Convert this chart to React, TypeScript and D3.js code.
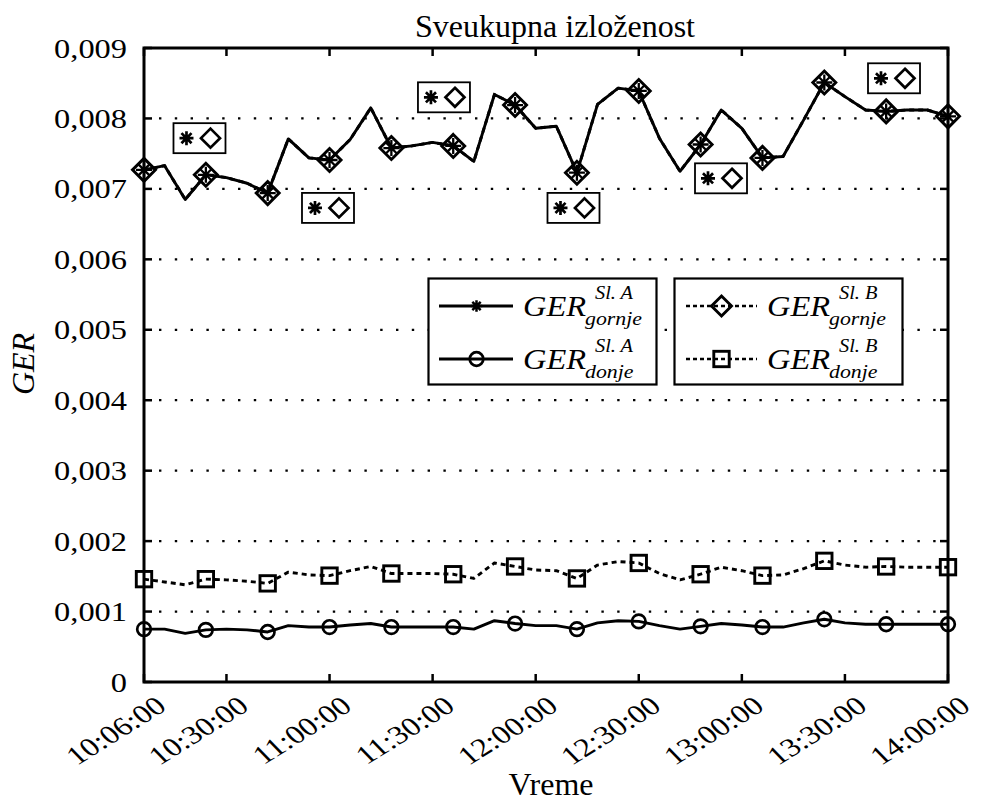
import React from 'react';
import * as d3 from 'd3';

const timeLabels = [
  '10:06', '10:12', '10:18', '10:24', '10:30', '10:36', '10:42', '10:48', '10:54',
  '11:00', '11:06', '11:12', '11:18', '11:24', '11:30', '11:36', '11:42', '11:48', '11:54',
  '12:00', '12:06', '12:12', '12:18', '12:24', '12:30', '12:36', '12:42', '12:48', '12:54',
  '13:00', '13:06', '13:12', '13:18', '13:24', '13:30', '13:36', '13:42', '13:48', '13:54',
  '14:00',
];

// values in units of 0.001
const gerGornjeA = [
  7.27, 7.33, 6.85, 7.20, 7.16, 7.08, 6.94, 7.71, 7.44, 7.41,
  7.70, 8.15, 7.58, 7.61, 7.66, 7.61, 7.39, 8.34, 8.19, 7.86,
  7.89, 7.23, 8.20, 8.43, 8.39, 7.72, 7.25, 7.63, 8.12, 7.86,
  7.44, 7.46, 7.98, 8.51, 8.31, 8.12, 8.10, 8.12, 8.12, 8.03,
];
const gerGornjeB = [
  7.27, 7.33, 6.85, 7.20, 7.16, 7.08, 6.94, 7.71, 7.44, 7.41,
  7.70, 8.15, 7.58, 7.61, 7.66, 7.61, 7.39, 8.34, 8.19, 7.86,
  7.89, 7.23, 8.20, 8.43, 8.39, 7.72, 7.25, 7.63, 8.12, 7.86,
  7.44, 7.46, 7.98, 8.51, 8.31, 8.12, 8.10, 8.12, 8.12, 8.03,
];
const gerDonjeA = [
  0.75, 0.75, 0.69, 0.74, 0.75, 0.74, 0.71, 0.80, 0.78, 0.78,
  0.81, 0.83, 0.78, 0.78, 0.78, 0.78, 0.75, 0.87, 0.83, 0.80,
  0.80, 0.75, 0.84, 0.87, 0.86, 0.80, 0.75, 0.79, 0.83, 0.81,
  0.78, 0.78, 0.84, 0.89, 0.84, 0.82, 0.82, 0.82, 0.82, 0.82,
];
const gerDonjeB = [
  1.46, 1.42, 1.38, 1.46, 1.45, 1.43, 1.40, 1.56, 1.52, 1.51,
  1.58, 1.64, 1.54, 1.54, 1.54, 1.53, 1.47, 1.69, 1.64, 1.59,
  1.58, 1.47, 1.66, 1.71, 1.69, 1.54, 1.45, 1.53, 1.63, 1.58,
  1.51, 1.52, 1.61, 1.72, 1.66, 1.63, 1.64, 1.63, 1.63, 1.63,
];

const yTicks = [0, 0.001, 0.002, 0.003, 0.004, 0.005, 0.006, 0.007, 0.008, 0.009];
const yTickLabels = ['0', '0,001', '0,002', '0,003', '0,004', '0,005', '0,006', '0,007', '0,008', '0,009'];
const xTickLabels = ['10:06:00', '10:30:00', '11:00:00', '11:30:00', '12:00:00', '12:30:00', '13:00:00', '13:30:00', '14:00:00'];

// annotation boxes (time, value)
const annotationTimes = ['10:22:09', '11:33:18', '10:59:33', '12:11:00', '12:53:56', '13:44:17'];
const annotationValues = [0.00772, 0.00830, 0.00673, 0.00673, 0.00715, 0.00857];

const titleText = 'Sveukupna izloženost';
const xLabelText = 'Vreme';
const yLabelText = 'GER';

const FONT = '"Liberation Serif", "Times New Roman", serif';

const parseHM = d3.timeParse('%H:%M');
const parseHMS = d3.timeParse('%H:%M:%S');

const W = 984;
const H = 801;
const L = 144;
const R = 948;
const T = 48;
const B = 682;

const x = d3.scaleTime()
  .domain([parseHMS('10:06:00') as Date, parseHMS('14:00:00') as Date])
  .range([L, R]);
const y = d3.scaleLinear().domain([0, 0.009]).range([B, T]);

const times = timeLabels.map((t) => parseHM(t) as Date);

const starPath = (r: number) => {
  const d = r * 0.72;
  return `M${-r},0H${r}M0,${-r}V${r}M${-d},${-d}L${d},${d}M${-d},${d}L${d},${-d}`;
};
const diamondPath = (r: number) => `M0,${-r}L${r},0L0,${r}L${-r},0Z`;

const Star = ({ cx, cy, r, sw }: any) => (
  <path d={starPath(r)} transform={`translate(${cx},${cy})`} stroke="#000" strokeWidth={sw} fill="none" />
);
const Diamond = ({ cx, cy, r, sw }: any) => (
  <path d={diamondPath(r)} transform={`translate(${cx},${cy})`} stroke="#000" strokeWidth={sw} fill="none" strokeLinejoin="miter" />
);
const Circle = ({ cx, cy, r, sw }: any) => (
  <circle cx={cx} cy={cy} r={r} stroke="#000" strokeWidth={sw} fill="none" />
);
const Square = ({ cx, cy, r, sw }: any) => (
  <rect x={cx - r} y={cy - r} width={2 * r} height={2 * r} stroke="#000" strokeWidth={sw} fill="none" />
);

const LegendText = ({ x0, y0, sub, sup }: any) => (
  <g fontFamily={FONT} fill="#000">
    <text transform={`translate(${x0},${y0}) scale(1.12,1)`} fontSize={29} fontStyle="italic">{yLabelText}</text>
    <text transform={`translate(${x0 + 62},${y0 + 9}) scale(1.12,1)`} fontSize={19.5} fontStyle="italic">{sub}</text>
    <text transform={`translate(${x0 + 72},${y0 - 17}) scale(1.1,1)`} fontSize={18.5} fontStyle="italic">{sup}</text>
  </g>
);

export default function App() {
  const line = d3.line<number>()
    .x((_, i) => x(times[i]))
    .y((v) => y(v * 0.001));

  const markerIdx = times.map((_, i) => i).filter((i) => i % 3 === 0);

  const xTickDates = xTickLabels.map((s) => parseHMS(s) as Date);

  return (
    <svg width={W} height={H} style={{ position: 'absolute', left: 0, top: 0, background: '#fff' }}>
      <rect x={0} y={0} width={W} height={H} fill="#fff" />

      {/* grid */}
      {yTicks.slice(1, -1).map((v) => (
        <line key={v} x1={L + 15} x2={R} y1={y(v)} y2={y(v)} stroke="#000" strokeWidth={2.2} strokeDasharray="2.4,13.4" />
      ))}

      {/* lines */}
      <path d={line(gerDonjeA) || ''} fill="none" stroke="#000" strokeWidth={2.9} strokeLinejoin="round" />
      <path d={line(gerDonjeB) || ''} fill="none" stroke="#000" strokeWidth={2.9} strokeDasharray="5,4" strokeLinejoin="round" />
      <path d={line(gerGornjeB) || ''} fill="none" stroke="#000" strokeWidth={2.9} strokeDasharray="5,4" />
      <path d={line(gerGornjeA) || ''} fill="none" stroke="#000" strokeWidth={2.9} strokeLinejoin="round" />

      {/* markers */}
      {markerIdx.map((i) => (
        <g key={i}>
          <Circle cx={x(times[i])} cy={y(gerDonjeA[i] * 0.001)} r={6.8} sw={2.7} />
          <Square cx={x(times[i])} cy={y(gerDonjeB[i] * 0.001)} r={7.7} sw={2.9} />
          <Diamond cx={x(times[i])} cy={y(gerGornjeB[i] * 0.001)} r={11.5} sw={2.9} />
          <Star cx={x(times[i])} cy={y(gerGornjeA[i] * 0.001)} r={8} sw={2.3} />
        </g>
      ))}

      {/* frame */}
      <rect x={L} y={T} width={R - L} height={B - T} fill="none" stroke="#000" strokeWidth={3} />
      {xTickDates.map((d, i) => (
        <g key={i}>
          <line x1={x(d)} x2={x(d)} y1={B} y2={B - 8} stroke="#000" strokeWidth={2.5} />
          <line x1={x(d)} x2={x(d)} y1={T} y2={T + 8} stroke="#000" strokeWidth={2.5} />
        </g>
      ))}
      {yTicks.map((v) => (
        <g key={v}>
          <line x1={L} x2={L + 8} y1={y(v)} y2={y(v)} stroke="#000" strokeWidth={2.5} />
          <line x1={R} x2={R - 8} y1={y(v)} y2={y(v)} stroke="#000" strokeWidth={2.5} />
        </g>
      ))}

      {/* tick labels */}
      {yTicks.map((v, i) => (
        <text key={v} transform={`translate(127,${y(v) + 9.5}) scale(1.2,1)`} textAnchor="end" fontSize={27} fontFamily={FONT} fill="#000">
          {yTickLabels[i]}
        </text>
      ))}
      {xTickDates.map((d, i) => (
        <text key={i} transform={`translate(${x(d) + 24},709) scale(1.25,1) rotate(-38)`} textAnchor="end" fontSize={26} fontFamily={FONT} fill="#000">
          {xTickLabels[i]}
        </text>
      ))}

      {/* annotation boxes */}
      {annotationTimes.map((t, i) => {
        const cx = x(parseHMS(t) as Date);
        const cy = y(annotationValues[i]);
        const bx = cx - 26;
        const by = cy - 15;
        return (
          <g key={i}>
            <rect x={bx} y={by} width={52} height={30} fill="#fff" stroke="#000" strokeWidth={1.8} />
            <Star cx={bx + 13} cy={cy} r={7} sw={2.7} />
            <Diamond cx={bx + 37} cy={cy} r={9.5} sw={2.7} />
          </g>
        );
      })}

      {/* legend */}
      <rect x={428.5} y={278.5} width={228} height={106} fill="#fff" stroke="#000" strokeWidth={2.2} />
      <line x1={439} x2={513} y1={306} y2={306} stroke="#000" strokeWidth={2.9} />
      <Star cx={476.5} cy={306} r={5.8} sw={2.5} />
      <line x1={439} x2={513} y1={359} y2={359} stroke="#000" strokeWidth={2.9} />
      <Circle cx={476.5} cy={359} r={6.8} sw={2.7} />
      <LegendText x0={523} y0={316} sub="gornje" sup="Sl. A" />
      <LegendText x0={523} y0={369} sub="donje" sup="Sl. A" />

      <rect x={674.5} y={278.5} width={228} height={106} fill="#fff" stroke="#000" strokeWidth={2.2} />
      <line x1={686} x2={757} y1={306} y2={306} stroke="#000" strokeWidth={2.5} strokeDasharray="4,3" />
      <Diamond cx={721.5} cy={306} r={10} sw={2.9} />
      <line x1={686} x2={757} y1={359} y2={359} stroke="#000" strokeWidth={2.5} strokeDasharray="4,3" />
      <Square cx={721.5} cy={359} r={7.7} sw={2.9} />
      <LegendText x0={767} y0={316} sub="gornje" sup="Sl. B" />
      <LegendText x0={767} y0={369} sub="donje" sup="Sl. B" />

      {/* titles */}
      <text x={555} y={37} textAnchor="middle" fontSize={32} fontFamily={FONT} fill="#000">{titleText}</text>
      <text x={551} y={795} textAnchor="middle" fontSize={32} fontFamily={FONT} fill="#000">{xLabelText}</text>
      <text transform="translate(34,364) rotate(-90)" textAnchor="middle" fontSize={32} fontStyle="italic" fontFamily={FONT} fill="#000">{yLabelText}</text>
    </svg>
  );
}
